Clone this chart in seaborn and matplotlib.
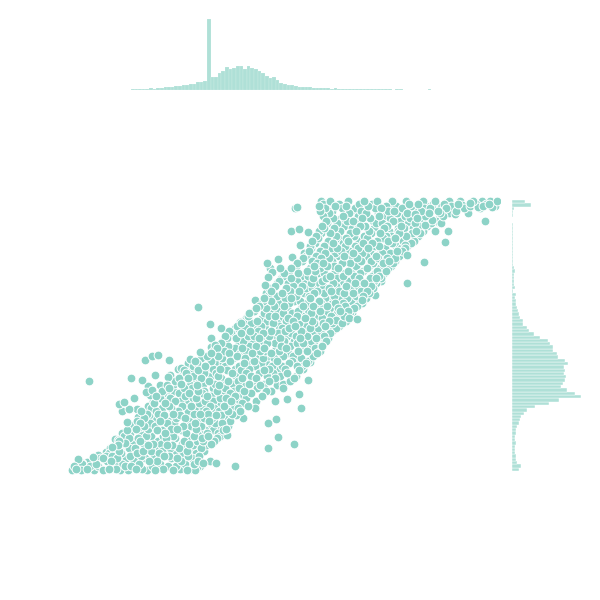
import matplotlib
matplotlib.use("Agg")
import numpy as np
import matplotlib.pyplot as plt
import seaborn as sns

color = "#8dd3c7"

# values, main band: one list of x for each y level
band_levels = [2, 3, 6, 8, 11, 14, 16, 19, 21, 24, 27, 28, 31, 34, 36, 39, 42, 43, 46, 49,
               51, 54, 57, 58, 61, 64, 66, 69, 71, 74, 76, 79, 81, 84, 87, 88, 91, 94, 96, 99,
               102, 103, 106, 109, 111, 114, 116, 119, 121, 124, 126, 129, 131, 134, 136, 139,
               141, 144, 146, 149, 151, 154, 156, 159, 161, 164, 166, 169, 171, 174, 176, 179,
               181, 184, 186, 189, 191, 194, 196, 199, 201, 204, 206, 209, 211, 214, 216, 219,
               221, 224, 226, 229, 231, 234, 236, 239, 241, 244, 246, 249, 251, 254, 256, 259,
               261, 264, 266, 268, 271]
band_x = [
    [2, 11, 24, 33, 50, 58, 77, 85, 103, 117, 125],
    [6, 17, 39, 46, 66, 72, 93, 110, 121],
    [4, 20, 28, 55, 61, 82, 98, 106, 130],
    [12, 26, 44, 52, 69, 90, 115, 124],
    [26, 37, 41, 64, 79, 87, 111, 128],
    [30, 47, 56, 75, 84, 101, 107, 122],
    [36, 42, 60, 71, 94, 99, 118, 129],
    [39, 51, 67, 89, 104, 113, 126],
    [44, 49, 73, 81, 92, 117, 121, 134],
    [40, 59, 65, 86, 100, 109, 131],
    [48, 54, 78, 97, 102, 123, 136],
    [52, 74, 83, 91, 112, 119, 141],
    [49, 63, 70, 88, 114, 127, 133, 144],
    [59, 68, 96, 105, 120, 132, 147],
    [54, 76, 81, 93, 103, 124, 138, 150],
    [60, 71, 95, 116, 128, 137, 148],
    [57, 69, 87, 92, 111, 135, 143, 153],
    [66, 78, 101, 107, 126, 140, 156],
    [62, 74, 85, 113, 121, 131, 149, 158],
    [70, 80, 97, 104, 125, 145, 152],
    [67, 90, 99, 119, 129, 139, 160],
    [74, 83, 106, 115, 134, 142, 155],
    [70, 79, 94, 110, 122, 146, 151, 166],
    [77, 88, 103, 124, 130, 138, 162],
    [71, 86, 108, 118, 136, 149, 158, 170],
    [81, 92, 101, 127, 133, 144, 168],
    [78, 99, 112, 121, 140, 154, 163, 178],
    [84, 95, 117, 129, 147, 157, 172],
    [83, 105, 110, 135, 143, 161, 167, 186],
    [90, 100, 123, 126, 150, 156, 176],
    [86, 97, 115, 137, 141, 165, 171, 192],
    [93, 109, 119, 132, 153, 160, 181],
    [92, 104, 128, 134, 147, 164, 174, 196, 201],
    [99, 114, 122, 143, 155, 169, 187],
    [97, 120, 127, 149, 152, 175, 190, 207],
    [104, 111, 133, 145, 163, 179, 194, 213],
    [105, 126, 139, 158, 168, 183, 199, 220],
    [109, 118, 131, 151, 172, 186, 205, 224],
    [112, 123, 141, 148, 166, 181, 197, 210, 226],
    [116, 134, 146, 162, 176, 189, 203, 217],
    [114, 128, 137, 157, 171, 194, 208, 229],
    [121, 143, 150, 165, 179, 199, 215, 233],
    [123, 135, 155, 169, 185, 202, 212, 227, 232],
    [127, 147, 153, 174, 191, 196, 219, 236],
    [125, 141, 160, 178, 184, 207, 222, 238],
    [131, 152, 163, 175, 193, 204, 225, 231],
    [137, 148, 167, 187, 198, 213, 223, 243],
    [141, 159, 170, 182, 201, 218, 229, 247],
    [143, 154, 176, 190, 195, 209, 228, 237, 250],
    [147, 165, 172, 194, 206, 216, 234, 245],
    [146, 158, 179, 186, 211, 220, 239, 252],
    [151, 169, 177, 197, 205, 227, 233, 249],
    [153, 173, 183, 192, 214, 224, 241, 256],
    [157, 166, 189, 203, 210, 230, 246, 258],
    [155, 178, 184, 199, 217, 226, 237, 254],
    [161, 171, 193, 208, 221, 235, 251, 260],
    [159, 180, 188, 201, 215, 231, 243, 262],
    [165, 175, 195, 212, 219, 240, 248, 266],
    [167, 185, 191, 209, 225, 236, 255, 269],
    [171, 181, 203, 207, 229, 244, 253, 272],
    [173, 187, 197, 216, 223, 242, 259, 276],
    [176, 192, 211, 218, 235, 252, 263, 279],
    [178, 199, 205, 227, 232, 247, 261, 274],
    [179, 194, 213, 222, 241, 256, 267, 282],
    [184, 202, 208, 228, 238, 250, 270, 278],
    [186, 196, 217, 231, 245, 260, 268, 284],
    [189, 204, 214, 233, 243, 257, 275, 287],
    [191, 210, 219, 237, 251, 265, 273, 292],
    [193, 201, 224, 230, 249, 262, 281, 290],
    [194, 215, 221, 240, 255, 271, 277, 296],
    [198, 207, 226, 239, 258, 264, 286, 293],
    [196, 212, 234, 244, 254, 274, 283, 299],
    [201, 220, 229, 247, 261, 269, 291, 297],
    [199, 216, 236, 242, 259, 280, 288, 303],
    [205, 223, 232, 253, 266, 276, 295, 301],
    [207, 218, 241, 246, 263, 285, 294, 306],
    [209, 227, 235, 252, 270, 279, 298, 304],
    [211, 221, 243, 256, 267, 289, 300, 311],
    [213, 231, 238, 260, 273, 284, 302, 309],
    [214, 228, 248, 254, 275, 290, 305, 314],
    [219, 237, 245, 265, 278, 293, 307, 316],
    [221, 240, 250, 268, 282, 297, 310, 318],
    [226, 244, 257, 264, 286, 299, 315, 321],
    [227, 247, 253, 272, 280, 303, 313, 323],
    [232, 242, 262, 277, 291, 301, 319, 325],
    [233, 251, 259, 281, 287, 308, 317],
    [236, 246, 269, 274, 296, 306, 324, 329],
    [234, 255, 265, 283, 292, 312, 320],
    [239, 250, 271, 279, 300, 311, 327, 332],
    [241, 261, 267, 288, 298, 315, 331],
    [240, 254, 275, 285, 305, 309, 326, 337],
    [245, 263, 273, 293, 302, 322, 335, 341],
    [242, 258, 278, 289, 307, 318, 333, 344],
    [248, 268, 276, 297, 313, 325, 339],
    [246, 266, 284, 294, 316, 321, 336, 348],
    [251, 260, 280, 301, 310, 329, 342, 350],
    [249, 270, 286, 299, 319, 328, 346, 353],
    [254, 264, 282, 304, 314, 334, 343],
    [252, 274, 290, 295, 317, 331, 349, 357],
    [257, 267, 287, 306, 312, 338, 345, 361],
    [256, 277, 283, 303, 323, 330, 352, 366],
    [263, 271, 292, 300, 320, 340, 347, 369],
    [253, 273, 288, 309, 315, 335, 355, 373],
    [259, 279, 296, 308, 327, 337, 359, 379],
    [250, 262, 281, 291, 318, 324, 344, 351, 368, 386],
    [255, 272, 285, 305, 311, 332, 354, 362, 376, 394, 410],
    [249, 265, 276, 298, 316, 326, 341, 356, 367, 381, 400, 413, 425],
    [253, 269, 289, 302, 321, 339, 348, 363, 374, 388, 406, 419],
    [251, 260, 278, 294, 307, 322, 336, 353, 365, 379, 390, 403, 412, 420, 427],
]

# points standing apart from the band
outlier_x = [19, 75, 82, 88, 99, 128, 61, 72, 85, 49, 54, 52, 64, 59, 57, 68, 67, 78, 76, 82,
             98, 108, 111, 120, 132, 140, 151, 141, 141, 142, 238, 229, 231, 217, 205, 198,
             206, 208, 224, 198, 157, 165, 146, 140, 133, 127, 225, 227, 221, 229, 208, 222,
             197, 200, 202, 198, 337, 354, 375, 378, 365, 337, 325, 316, 311, 287, 305, 296,
             292, 266, 262, 415, 398, 385, 371, 368]
outlier_y = [91, 112, 116, 117, 112, 165, 94, 92, 97, 68, 70, 61, 74, 63, 50, 55, 63, 86, 80, 82,
             95, 103, 104, 113, 114, 148, 144, 134, 125, 120, 92, 78, 64, 73, 71, 49,
             53, 35, 28, 24, 37, 6, 9, 11, 9, 5, 264, 265, 241, 243, 213, 215,
             209, 204, 200, 195, 189, 210, 230, 241, 241, 217, 214, 213, 191, 153, 177, 174,
             172, 152, 149, 251, 259, 258, 249, 250]

# points along the rough edges of the band and in its upper right corner
edge_x = [375, 382, 392, 400, 408, 416, 422, 370, 362, 355, 350, 342, 335, 360, 345, 328, 320,
          23, 28, 36, 33, 17, 8, 12, 42, 48, 45, 52, 60, 70, 55,
          252, 240, 226, 213, 185, 173, 280, 292, 306, 322, 335,
          145, 130, 118, 100, 90, 80, 170, 158, 185, 195, 210, 230, 238]
edge_y = [266, 262, 267, 269, 265, 268, 265, 259, 252, 247, 240, 234, 227, 264, 258, 244, 232,
          15, 17, 20, 14, 10, 13, 9, 25, 32, 33, 39, 47, 45, 29,
          127, 110, 96, 84, 64, 54, 160, 177, 194, 210, 224,
          127, 120, 109, 97, 87, 77, 150, 140, 172, 187, 204, 227, 240]

# bar heights of the two marginals
top_counts = [1, 1, 1, 1, 1, 2, 1, 2, 2, 3, 3, 3, 4, 4, 5, 5, 6, 6, 8, 8, 9, 71, 13, 13, 17, 19,
              23, 21, 22, 24, 24, 21, 24, 22, 21, 19, 17, 14, 12, 13, 10, 7, 6, 5, 5, 4, 3, 3,
              3, 3, 2, 2, 2, 2, 2, 1, 2, 1, 1, 1, 1, 1, 1, 1, 1, 1, 1, 1, 1, 1, 1, 1, 0, 1, 1,
              0, 0, 0, 0, 0, 0, 0, 1]
right_counts = [13, 19, 2, 1, 1, 0, 0, 1, 1, 1, 1, 1, 1, 1, 1, 1, 1, 1, 1, 1, 2, 3, 2, 2, 2, 2, 3, 1,
                4, 3, 4, 4, 5, 6, 7, 8, 11, 11, 15, 17, 22, 28, 36, 38, 41, 41, 45, 46, 53, 56,
                52, 53, 52, 54, 53, 51, 49, 55, 63, 69, 47, 37, 23, 15, 12, 9, 8, 7, 5, 4, 4, 3,
                3, 4, 3, 3, 3, 4, 4, 5, 9, 7]

x = [v for row in band_x for v in row] + outlier_x + edge_x
y = [lev for lev, row in zip(band_levels, band_x) for v in row] + outlier_y + edge_y

# the points overlap in no particular order, so do not paint them row by row
order = sorted(range(len(x)), key=lambda i: (x[i] * 37 + y[i] * 91) % 101)
x = [x[i] for i in order]
y = [y[i] for i in order]

g = sns.JointGrid(x=x, y=y, height=6)
g.plot_joint(sns.scatterplot, color=color, s=40, edgecolor="white", linewidth=0.7)

top_edges = np.linspace(61, 61 + 3.62 * len(top_counts), len(top_counts) + 1)
top_centers = (top_edges[:-1] + top_edges[1:]) / 2
sns.histplot(x=top_centers, weights=top_counts, bins=top_edges.tolist(), color=color, alpha=0.7,
             edgecolor="white", linewidth=0.1, ax=g.ax_marg_x)

right_edges = np.linspace(1, 272, len(right_counts) + 1)
right_centers = (right_edges[:-1] + right_edges[1:]) / 2
sns.histplot(y=right_centers, weights=right_counts[::-1], bins=right_edges.tolist(), color=color, alpha=0.7,
             edgecolor="white", linewidth=0.3, ax=g.ax_marg_y)

g.ax_joint.set_xlim(-2, 430)
g.ax_joint.set_ylim(-60, 370)
g.ax_marg_x.set_ylim(0, 72)
g.ax_marg_y.set_xlim(0, 70)

g.ax_joint.set_position([68 / 600, 68 / 600, 432 / 600, 430 / 600])
g.ax_marg_x.set_position([68 / 600, 510 / 600, 432 / 600, 72 / 600])
g.ax_marg_y.set_position([512 / 600, 68 / 600, 70 / 600, 430 / 600])

for ax in [g.ax_joint, g.ax_marg_x, g.ax_marg_y]:
    ax.set_axis_off()

g.figure.set_size_inches(6, 6)
g.figure.savefig("out.png", dpi=100)
